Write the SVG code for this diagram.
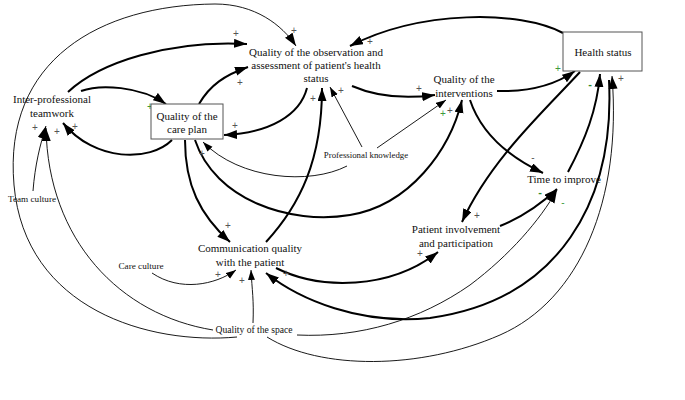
<svg xmlns="http://www.w3.org/2000/svg" width="685" height="400" viewBox="0 0 685 400">
<style>
.n{font-family:"Liberation Serif","DejaVu Serif",serif;font-size:11px;text-anchor:middle;fill:#111}
.s{font-family:"Liberation Serif","DejaVu Serif",serif;font-size:9.2px;text-anchor:middle;fill:#111}
.box{fill:#fff;stroke:#555;stroke-width:1}
.tk{fill:none;stroke:#000;stroke-width:2;marker-end:url(#ah)}
.tn{fill:none;stroke:#000;stroke-width:0.9;marker-end:url(#as)}
.tnb{fill:none;stroke:#000;stroke-width:0.9;marker-end:url(#ah)}
.p{font-family:"Liberation Sans",sans-serif;font-size:10px;text-anchor:middle;fill:#555}
.g{font-family:"Liberation Sans",sans-serif;font-size:10px;text-anchor:middle;fill:#3c9a3c}
.gb{font-family:"Liberation Sans",sans-serif;font-size:11px;font-weight:bold;text-anchor:middle;fill:#2f8a2f}
</style>
<defs>
<marker id="ah" markerUnits="userSpaceOnUse" markerWidth="14" markerHeight="10" refX="13" refY="4.5" orient="auto"><path d="M0,0 L13,4.5 L0,9 z" fill="#000"/></marker>
<marker id="as" markerUnits="userSpaceOnUse" markerWidth="11" markerHeight="8" refX="10" refY="3.5" orient="auto"><path d="M0,0 L10,3.5 L0,7 z" fill="#000"/></marker>
</defs>
<rect width="685" height="400" fill="#fff"/>
<g id="connectors">
<path class="tk" d="M81,91 C100,84 140,86 166,104"/>
<path class="tk" d="M68,92 C100,62 170,40 247,44"/>
<path class="tk" d="M199,104 C210,85 225,75 248,67"/>
<path class="tk" d="M307,88 C300,115 270,133 224,135"/>
<path class="tk" d="M172,140 C150,162 95,162 63,123"/>
<path class="tk" d="M352,86 C375,96 405,99 435,95"/>
<path class="tk" d="M563,33 C520,10 420,10 350,46"/>
<path class="tk" d="M497,91 C530,92 555,85 575,71"/>
<path class="tk" d="M580,72 C545,110 490,160 462,222"/>
<path class="tk" d="M470,100 C480,130 505,155 543,173"/>
<path class="tk" d="M568,172 C585,140 597,110 600,74"/>
<path class="tk" d="M500,226 C520,218 540,205 557,189"/>
<path class="tk" d="M276,268 C320,290 390,290 438,252"/>
<path class="tk" d="M185,140 C185,185 200,215 230,242"/>
<path class="tk" d="M266,242 C300,205 322,160 322,88"/>
<path class="tk" d="M195,140 C215,200 290,225 350,215 C410,205 450,150 462,100"/>
<path class="tk" d="M609,80 C615,200 560,300 430,318 C360,325 300,300 266,273"/>
<path class="tn" d="M362,147 L330,87"/>
<path class="tn" d="M377,148 L446,100"/>
<path class="tn" d="M347,166 C310,185 240,180 203,142"/>
<path class="tnb" d="M33,191 C35,165 40,145 46,126"/>
<path class="tnb" d="M213,330 C120,315 48,240 46,128"/>
<path class="tnb" d="M237,337 C150,345 25,310 14,185 S100,5 215,4 C255,4 282,25 296,46"/>
<path class="tn" d="M253,323 C254,300 252,290 251,270"/>
<path class="tn" d="M152,273 C180,292 215,285 236,270"/>
<path class="tnb" d="M297,335 C360,338 420,320 470,285 C510,255 540,220 557,190"/>
<path class="tnb" d="M267,337 C320,370 420,370 500,335 C580,300 622,200 612,76"/>
<text class="p" x="236" y="37">+</text>
<text class="p" x="294" y="34">+</text>
<text class="p" x="240" y="86">+</text>
<text class="p" x="235" y="129">+</text>
<text class="p" x="370" y="45">+</text>
<text class="p" x="313" y="102">+</text>
<text class="p" x="341" y="94">+</text>
<text class="p" x="419" y="92">+</text>
<text class="p" x="450" y="114">+</text>
<text class="p" x="202" y="157">+</text>
<text class="p" x="35" y="131">+</text>
<text class="p" x="57" y="135">+</text>
<text class="p" x="75" y="130">+</text>
<text class="p" x="228" y="229">+</text>
<text class="p" x="218" y="278">+</text>
<text class="p" x="242" y="284">+</text>
<text class="p" x="286" y="277">+</text>
<text class="p" x="420" y="257">+</text>
<text class="p" x="477" y="219">+</text>
<text class="p" x="621" y="82">+</text>
<text class="p" x="533" y="161">-</text>
<text class="g" x="150" y="110">+</text>
<text class="g" x="443" y="117">+</text>
<text class="g" x="558" y="72">+</text>
<text class="gb" x="590" y="88">-</text>
<text class="gb" x="540" y="196">-</text>
<text class="g" x="563" y="206">-</text>
</g>
<g id="teamwork"><text class="n" x="52" y="103">Inter-professional</text><text class="n" x="52" y="117">teamwork</text></g>
<g id="care-plan"><rect class="box" x="151" y="104" width="72" height="35"/><text class="n" x="187" y="120">Quality of the</text><text class="n" x="187" y="133">care plan</text></g>
<g id="observation"><text class="n" x="316" y="56">Quality of the observation and</text><text class="n" x="316" y="69">assessment of patient's health</text><text class="n" x="316" y="82">status</text></g>
<g id="interventions"><text class="n" x="464" y="83">Quality of the</text><text class="n" x="464" y="97">interventions</text></g>
<g id="health-status"><rect class="box" x="563" y="32" width="79" height="39"/><text class="n" x="603" y="56">Health status</text></g>
<g id="time-to-improve"><text class="n" x="564" y="183">Time to improve</text></g>
<g id="patient-involvement"><text class="n" x="456" y="233">Patient involvement</text><text class="n" x="456" y="247">and participation</text></g>
<g id="communication"><text class="n" x="250" y="252">Communication quality</text><text class="n" x="250" y="266">with the patient</text></g>
<g id="professional-knowledge"><text class="s" x="366" y="158" style="font-size:8.8px">Professional knowledge</text></g>
<g id="team-culture"><text class="s" x="32" y="202">Team culture</text></g>
<g id="care-culture"><text class="s" x="141" y="269">Care culture</text></g>
<g id="quality-space"><text class="s" x="254" y="333" style="font-size:9.6px">Quality of the space</text></g>
</svg>
